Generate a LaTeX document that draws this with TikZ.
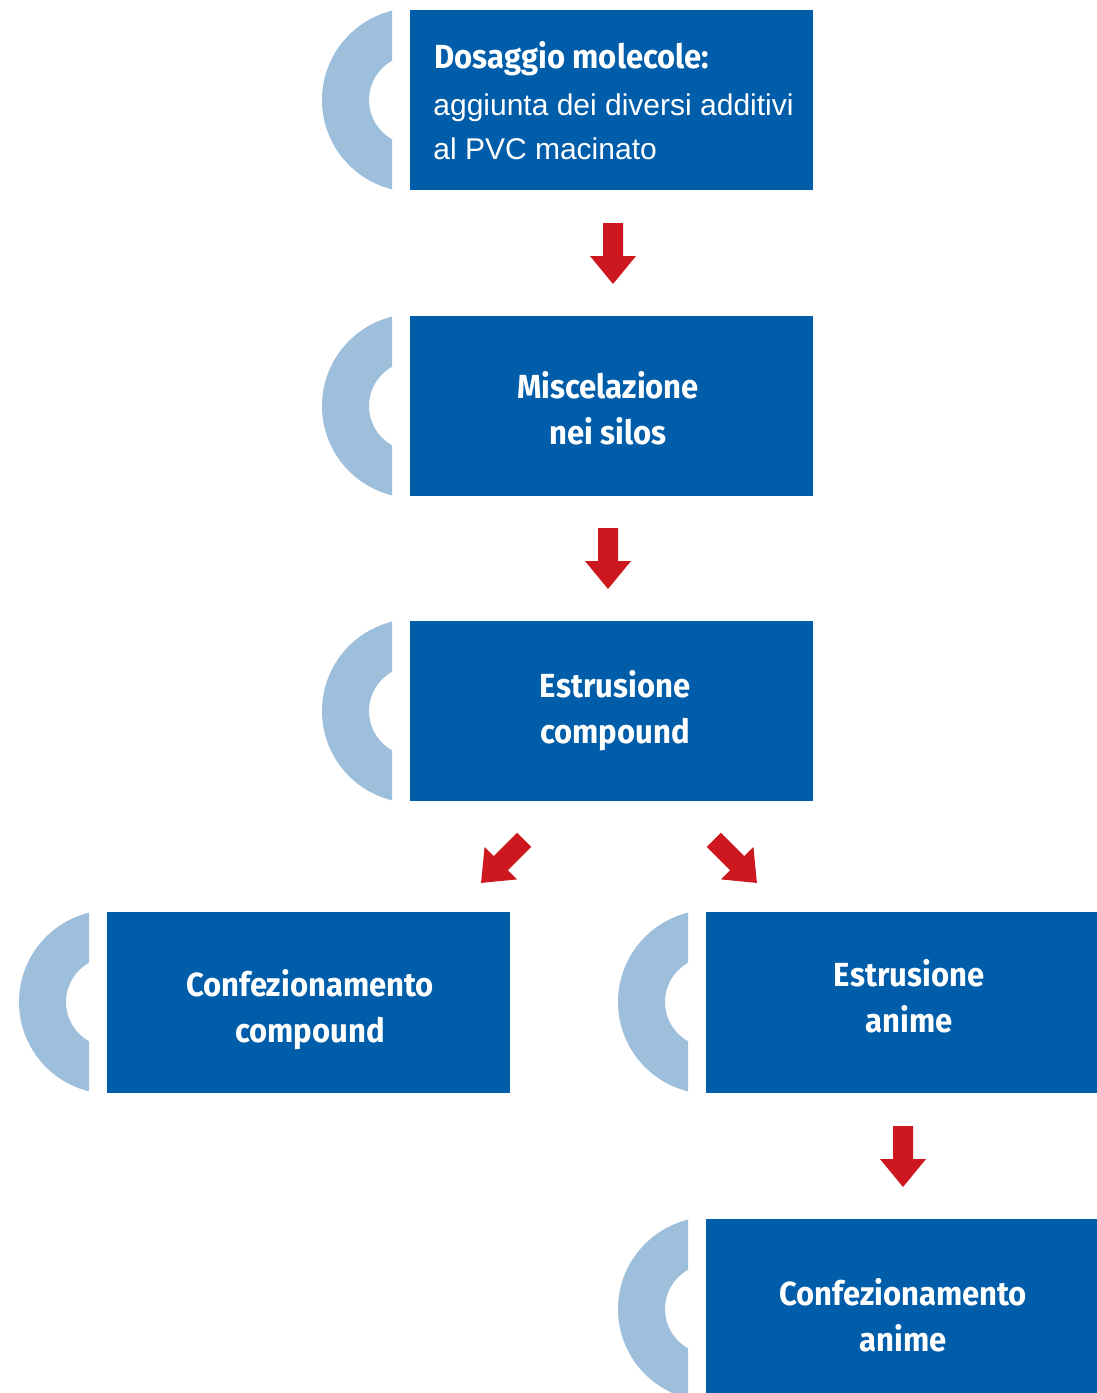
\documentclass[tikz,border=0pt]{standalone}
\usepackage{fontspec}
\setmainfont{Liberation Sans}
\newfontfamily\headfont[FakeStretch=0.93]{Fira Sans}
\definecolor{boxblue}{HTML}{005DA9}
\definecolor{lightblue}{HTML}{9EBFDC}
\definecolor{arrred}{HTML}{CC181E}
\tikzset{
  stagebox/.style={fill=boxblue, draw=none, inner sep=0pt, anchor=north west},
  headtext/.style={text=white, inner sep=0pt, align=center, font=\headfont\bfseries\fontsize{16.7}{23}\selectfont},
  subtext/.style={text=white, inner sep=0pt, anchor=base west, font=\fontsize{15}{22}\selectfont},
  pics/blockarrow/.style={code={
    \fill[arrred] (-10,-30) -- (10,-30) -- (10,3) -- (23,3) -- (0,31) -- (-23,3) -- (-10,3) -- cycle;
  }},
  pics/crescent/.style args={#1/#2}{code={
    \begin{scope}
      \clip (#1-110,#2-100) rectangle (#1-22,#2+100);
      \fill[lightblue, even odd rule] (#1,#2) circle[radius=46pt] (#1,#2) circle[radius=22.5pt];
    \end{scope}
  }}
}
\begin{document}
\begin{tikzpicture}[x=0.5pt,y=-0.5pt]
\useasboundingbox (0,0) rectangle (1097,1393);
% boxes
\node[stagebox, minimum width=201.5pt, minimum height=90pt] (b1) at (410,10) {};
\node[stagebox, minimum width=201.5pt, minimum height=90pt] (b2) at (410,316) {};
\node[stagebox, minimum width=201.5pt, minimum height=90pt] (b3) at (410,621) {};
\node[stagebox, minimum width=201.5pt, minimum height=90.5pt] (b4) at (107,912) {};
\node[stagebox, minimum width=195.5pt, minimum height=90.5pt] (b5) at (706,912) {};
\node[stagebox, minimum width=195.5pt, minimum height=90pt] (b6) at (706,1219) {};
% crescents
\pic {crescent={414/100}};
\pic {crescent={414/406}};
\pic {crescent={414/711}};
\pic {crescent={111/1002}};
\pic {crescent={710/1002}};
\pic {crescent={710/1309}};
% texts
\node[text=white, inner sep=0pt, anchor=base west, font=\headfont\bfseries\fontsize{16.7}{23}\selectfont] (t1a) at (434,68) {Dosaggio molecole:};
\node[subtext] (t1b) at (433,115) {aggiunta dei diversi additivi};
\node[subtext] (t1c) at (433,159) {al PVC macinato};
\node[headtext] (t2) at (608,408) {Miscelazione\\nei silos};
\node[headtext] (t3) at (615,711) {Estrusione\\compound};
\node[headtext] (t4) at (310,1010) {Confezionamento\\compound};
\node[headtext] (t5) at (909,996) {Estrusione\\anime};
\node[headtext] (t6) at (903,1315) {Confezionamento\\anime};
% arrows
\pic at (613,253) {blockarrow};
\pic at (608,558) {blockarrow};
\pic[rotate=-45] at (503,861) {blockarrow};
\pic[rotate=45] at (735,861) {blockarrow};
\pic at (903,1156) {blockarrow};
\end{tikzpicture}
\end{document}
